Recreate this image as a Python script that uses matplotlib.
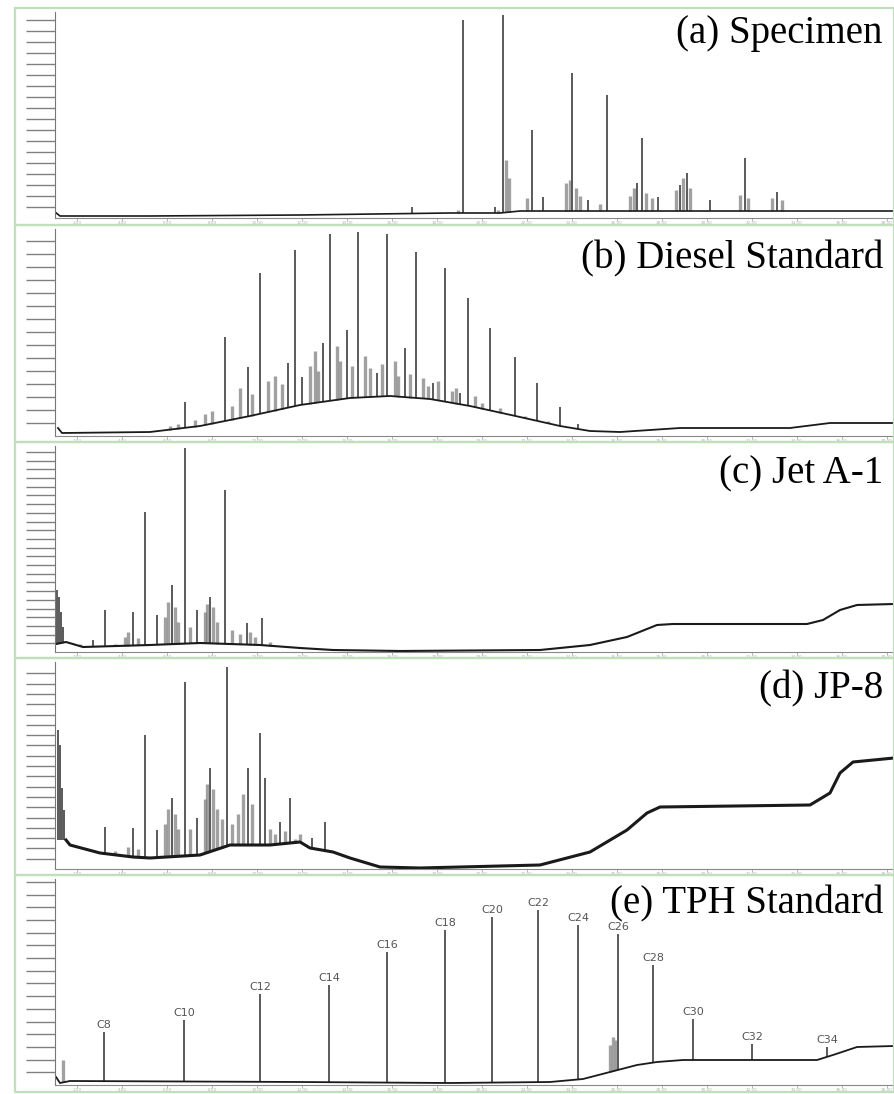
import numpy as np
import matplotlib.pyplot as plt
from matplotlib.patches import Rectangle

# GC-FID chromatograms, x = retention (scan units), y = detector signal (arb.)

# (a) Specimen
a_base_x = [55, 60, 150, 300, 450, 500, 520, 600, 894]
a_base_y = [6, 2, 2, 3, 5, 5, 7, 7, 7]
a_pk_x = [412, 463, 495, 503, 532, 543, 572, 588, 607, 637, 642, 658, 680, 687, 710, 745, 777]
a_pk_h = [11, 198, 11, 203, 88, 21, 145, 18, 123, 35, 80, 21, 33, 45, 18, 60, 26]
a_mn_x = [458, 498, 506, 509, 527, 566, 570, 576, 580, 600, 630, 634, 646, 652, 676, 683, 690, 740, 748, 772, 782]
a_mn_h = [8, 8, 58, 40, 20, 35, 38, 30, 22, 14, 22, 30, 25, 20, 28, 40, 30, 23, 20, 20, 18]

# (b) Diesel Standard
b_base_x = [58, 62, 150, 200, 250, 300, 350, 390, 430, 470, 520, 560, 590, 620, 680, 790, 830, 894]
b_base_y = [8, 3, 4, 10, 20, 31, 38, 40, 37, 30, 19, 10, 5, 4, 8, 8, 13, 13]
b_pk_x = [185, 225, 248, 260, 288, 295, 302, 323, 330, 347, 358, 377, 387, 405, 416, 433,
          445, 460, 468, 490, 515, 537, 560, 578]
b_pk_h = [34, 99, 69, 163, 73, 186, 59, 93, 202, 106, 204, 63, 202, 88, 184, 53,
          168, 43, 138, 108, 79, 53, 29, 12]
b_mn_x = [170, 178, 195, 205, 212, 232, 240, 252, 268, 275, 282, 310, 315, 318, 337, 340,
          352, 365, 370, 382, 395, 398, 410, 423, 428, 438, 452, 456, 475, 482, 500, 525, 548]
b_mn_h = [10, 12, 16, 22, 25, 30, 48, 42, 55, 60, 52, 70, 85, 65, 90, 75,
          70, 80, 68, 72, 75, 60, 62, 58, 50, 55, 45, 48, 40, 33, 28, 20, 15]

# (c) Jet A-1
c_base_x = [56, 66, 83, 150, 200, 260, 300, 333, 400, 540, 590, 627, 657, 673, 807, 823, 840, 857, 894]
c_base_y = [8, 10, 5, 7, 9, 7, 4, 2, 1, 2, 7, 15, 27, 28, 28, 32, 42, 47, 48]
c_pk_x = [57, 59, 61, 63, 93, 105, 133, 145, 157, 172, 185, 197, 210, 225, 247, 262]
c_pk_h = [62, 55, 40, 25, 12, 42, 40, 140, 37, 67, 204, 42, 55, 162, 29, 34]
c_mn_x = [80, 115, 125, 128, 138, 165, 168, 175, 178, 190, 205, 207, 213, 217, 232, 240, 250, 255, 270]
c_mn_h = [8, 8, 15, 20, 14, 35, 50, 45, 30, 25, 40, 48, 45, 30, 22, 18, 20, 15, 10]

# (d) JP-8
d_base_x = [66, 70, 100, 133, 150, 200, 230, 270, 300, 310, 333, 350, 380, 420, 540, 590, 627,
            647, 660, 810, 830, 840, 853, 894]
d_base_y = [29, 24, 16, 12, 11, 14, 24, 24, 27, 21, 17, 11, 2, 1, 4, 17, 39,
            56, 62, 64, 76, 96, 107, 111]
d_pk_x = [58, 60, 62, 64, 105, 133, 145, 157, 172, 185, 197, 210, 227, 248, 260, 265, 280, 290, 312, 325]
d_pk_h = [139, 124, 81, 59, 42, 41, 134, 39, 71, 187, 51, 101, 202, 101, 136, 91, 47, 71, 31, 47]
d_mn_x = [95, 115, 120, 128, 138, 165, 168, 175, 178, 190, 205, 207, 213, 217, 222, 232, 238,
          243, 252, 270, 275, 285, 295, 300, 305, 318]
d_mn_h = [18, 18, 15, 22, 20, 45, 60, 55, 40, 40, 70, 85, 80, 60, 50, 45, 55,
          75, 65, 40, 35, 38, 30, 35, 25, 20]

# (e) TPH Standard (n-alkanes)
e_base_x = [56, 60, 70, 300, 450, 550, 583, 610, 637, 657, 683, 750, 817, 833, 857, 894]
e_base_y = [8, 2, 4, 3, 2, 3, 6, 13, 20, 23, 25, 25, 25, 30, 38, 39]
e_pk_x = [104, 184, 260, 329, 387, 445, 492, 538, 578, 618, 653, 693, 752, 827]
e_pk_h = [53, 65, 91, 100, 133, 155, 168, 175, 160, 151, 120, 66, 41, 38]
e_pk_lab = ['C8', 'C10', 'C12', 'C14', 'C16', 'C18', 'C20', 'C22', 'C24', 'C26',
            'C28', 'C30', 'C32', 'C34']
e_mn_x = [63, 610, 613, 616]
e_mn_h = [25, 40, 48, 45]

names = ['(a) Specimen', '(b) Diesel Standard', '(c) Jet A-1', '(d) JP-8', '(e) TPH Standard']

panels = [
    (a_base_x, a_base_y, a_pk_x, a_pk_h, a_mn_x, a_mn_h),
    (b_base_x, b_base_y, b_pk_x, b_pk_h, b_mn_x, b_mn_h),
    (c_base_x, c_base_y, c_pk_x, c_pk_h, c_mn_x, c_mn_h),
    (d_base_x, d_base_y, d_pk_x, d_pk_h, d_mn_x, d_mn_h),
    (e_base_x, e_base_y, e_pk_x, e_pk_h, e_mn_x, e_mn_h),
]

# layout in pixels
W, H = 894, 1094
frame_top = [8, 225, 442, 658, 875]
frame_bot = [225, 442, 658, 875, 1092]
ax_bot = [218, 436, 652, 869, 1085]
tick_step = [11, 13, 8.7, 10.3, 12.7]
base_lw = [1.2, 1.3, 1.5, 2.2, 1.3]
label_base = [43, 268, 483, 698, 913]
green = '#bfe0bb'

fig = plt.figure(figsize=(W / 100, H / 100), dpi=100)

for i, (bx, by, px, ph, mx, mh) in enumerate(panels):
    top = frame_top[i] + 4
    ax = fig.add_axes([55 / W, 1 - ax_bot[i] / H, (W - 55) / W, (ax_bot[i] - top) / H])
    ymax = ax_bot[i] - top
    ax.set_xlim(55, 894)
    ax.set_ylim(0, ymax)

    # green outer frame
    fig.add_artist(Rectangle((15 / W, 1 - frame_bot[i] / H), (W - 15) / W,
                             (frame_bot[i] - frame_top[i]) / H, fill=False,
                             edgecolor=green, lw=1.6, transform=fig.transFigure))

    foot_m = np.interp(mx, bx, by)
    ax.vlines(mx, foot_m, mh, color='#7a7a7a', lw=2.4, alpha=0.7)
    foot_p = np.interp(px, bx, by)
    ax.vlines(px, foot_p, ph, color='#5a5a5a', lw=1.4)
    ax.plot(bx, by, color='#1a1a1a', lw=base_lw[i])

    if i == 4:
        for x, h, lab in zip(px, ph, e_pk_lab):
            ax.text(x, h + 7, lab, ha='center', va='center', fontsize=8,
                    color='#555555', family='DejaVu Sans')

    for s in ['top', 'right']:
        ax.spines[s].set_visible(False)
    ax.spines['left'].set_color('#777777')
    ax.spines['bottom'].set_color('#888888')
    ax.set_yticks(np.arange(tick_step[i], ymax - 2, tick_step[i]))
    ax.set_yticklabels([])
    ax.tick_params(axis='y', length=21, width=1.0, color='#808080')
    xt = np.arange(77, 894, 45)
    ax.set_xticks(xt)
    ax.set_xticklabels(['%.2f' % (2 * k + 2) for k in range(len(xt))], fontsize=3, color='#b0b0b0')
    ax.tick_params(axis='x', length=2, width=0.6, color='#aaaaaa', pad=0.5)

    fig.text(883 / W, 1 - label_base[i] / H, names[i], ha='right', va='baseline',
             fontsize=28, family='Liberation Serif', color='black', zorder=10)

fig.savefig('out.png', dpi=100)
